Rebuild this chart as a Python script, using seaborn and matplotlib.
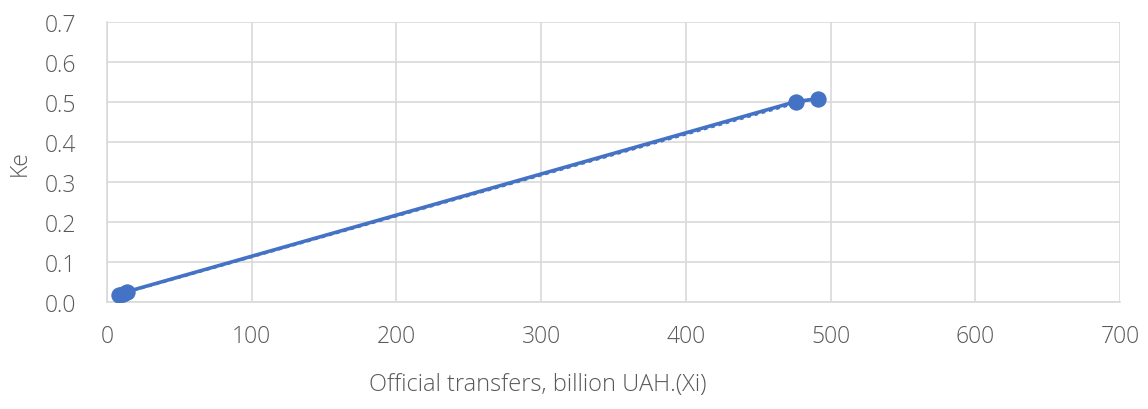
import numpy as np
import pandas as pd
import matplotlib
matplotlib.use("Agg")
import matplotlib.pyplot as plt
import seaborn as sns

# data
transfers = [8.5, 11.0, 14.0, 476.0, 491.0]
ke = [0.018, 0.021, 0.026, 0.501, 0.508]

df = pd.DataFrame({"x": transfers, "ke": ke})

sns.set_style("white")
plt.rcParams["font.family"] = ["Open Sans", "DejaVu Sans"]

blue = "#4472C4"
grey_txt = "#595959"
grid_c = "#D9D9D9"

fig = plt.figure(figsize=(11.48, 4.10), dpi=100)
ax = fig.add_axes([107 / 1148, 1 - 303 / 410, (1120 - 107) / 1148, (303 - 23) / 410])

# linear trendline (dotted)
k, b = np.polyfit(df["x"], df["ke"], 1)
xt = np.array([df["x"].min(), df["x"].max()])
ax.plot(xt, k * xt + b, color=blue, lw=1.8, ls=(0, (1.5, 1.5)), zorder=2)

sns.lineplot(data=df, x="x", y="ke", color=blue, lw=2.6, sort=False,
             marker="o", markersize=11, markeredgecolor=blue, ax=ax, zorder=3)

ax.set_xlim(0, 700)
ax.set_ylim(0, 0.7)
ax.set_xticks(np.arange(0, 701, 100))
ax.set_yticks(np.arange(0, 0.71, 0.1))
ax.set_yticklabels([f"{v:.1f}" for v in np.arange(0, 0.71, 0.1)])
ax.grid(True, color=grid_c, lw=1.2)
ax.set_axisbelow(True)
for s in ["top", "right"]:
    ax.spines[s].set_visible(False)
for s in ["left", "bottom"]:
    ax.spines[s].set_color(grid_c)
    ax.spines[s].set_linewidth(1.2)
ax.tick_params(axis="x", length=0, labelsize=16.5, colors=grey_txt, pad=16)
ax.tick_params(axis="y", length=0, labelsize=16.5, colors=grey_txt, pad=22)
for t in ax.get_xticklabels() + ax.get_yticklabels():
    t.set_fontweight("light")

ax.set_xlabel("Official transfers, billion UAH.(Xi)", fontsize=17, color=grey_txt,
              fontweight="light")
ax.set_ylabel("Ke", fontsize=16.5, color=grey_txt, fontweight="light")
ax.xaxis.set_label_coords((538 - 107) / (1120 - 107), -0.25)
ax.yaxis.set_label_coords(-0.074, 0.5)

fig.savefig("out.png", dpi=100)
